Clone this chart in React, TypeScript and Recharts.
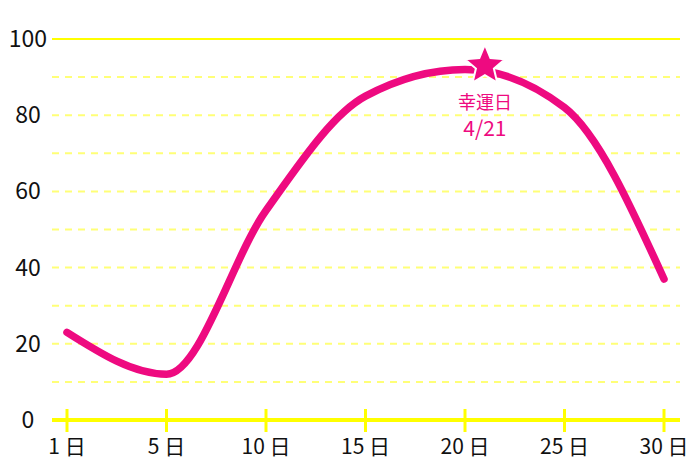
import React from "react";
import { LineChart, Line, XAxis, YAxis, ReferenceLine, ReferenceDot } from "recharts";

const dayNumbers = [1, 5, 10, 15, 20, 25, 30];
const tickLabels = ["1 日", "5 日", "10 日", "15 日", "20 日", "25 日", "30 日"];
const values = [23, 12, 55, 85, 92, 82, 37];
const yTicks = [0, 20, 40, 60, 80, 100];
const dashedGrid = [10, 20, 30, 40, 50, 60, 70, 80, 90];
const solidGrid = [100];
const luckyDay = 21;
const luckyValue = 93;
const luckyTitle = "幸運日";
const luckyDate = "4/21";

const PINK = "#ee0a80";
const YELLOW = "#ffff00";
const FONT = "'Noto Sans CJK JP', 'Noto Sans', sans-serif";

const data = values.map((v, i) => ({ idx: i, value: v }));

function dayToIndex(day: number) {
  for (let i = 0; i < dayNumbers.length - 1; i++) {
    if (day >= dayNumbers[i] && day <= dayNumbers[i + 1]) {
      return i + (day - dayNumbers[i]) / (dayNumbers[i + 1] - dayNumbers[i]);
    }
  }
  return dayNumbers.length - 1;
}

const XTick = (props: any) => {
  const { x, y, payload } = props;
  return (
    <g>
      <line x1={x} x2={x} y1={y - 11} y2={y + 12} stroke={YELLOW} strokeWidth={3} />
      <text x={x} y={y + 34} textAnchor="middle" fontSize={21} fontFamily={FONT} fill="#111">
        {tickLabels[payload.value]}
      </text>
    </g>
  );
};

const YTick = (props: any) => {
  const { y, payload } = props;
  return (
    <text x={28} y={y} dy={8} textAnchor="middle" fontSize={23} fontFamily={FONT} fill="#111">
      {payload.value}
    </text>
  );
};

const Star = (props: any) => {
  const { cx, cy } = props;
  const R = 21;
  const r = R * 0.45;
  const pts: string[] = [];
  for (let i = 0; i < 10; i++) {
    const rad = i % 2 === 0 ? R : r;
    const a = -Math.PI / 2 + (i * Math.PI) / 5;
    pts.push(`${cx + rad * Math.cos(a)},${cy + rad * Math.sin(a)}`);
  }
  return (
    <g>
      <polygon points={pts.join(" ")} fill={PINK} stroke="#fff" strokeWidth={2} strokeLinejoin="miter" />
      <text x={cx} y={cy + 43} textAnchor="middle" fontSize={18} fontFamily={FONT} fill={PINK}>
        {luckyTitle}
      </text>
      <text x={cx} y={cy + 70} textAnchor="middle" fontSize={21} fontFamily={FONT} fill={PINK}>
        {luckyDate}
      </text>
    </g>
  );
};

export default function App() {
  return (
    <div style={{ position: "absolute", left: 0, top: 0, background: "#fff" }}>
      <LineChart width={700} height={467} data={data} margin={{ top: 39, right: 20, bottom: 0, left: 0 }}>
        {dashedGrid.map((g) => (
          <ReferenceLine key={"d" + g} y={g} stroke="#ffff77" strokeWidth={2} strokeDasharray="7 6" />
        ))}
        {solidGrid.map((g) => (
          <ReferenceLine key={"s" + g} y={g} stroke={YELLOW} strokeWidth={2} />
        ))}
        <XAxis
          dataKey="idx"
          type="number"
          domain={[0, dayNumbers.length - 1]}
          ticks={dayNumbers.map((_, i) => i)}
          padding={{ left: 15, right: 16 }}
          height={47}
          axisLine={{ stroke: YELLOW, strokeWidth: 4 }}
          tickLine={false}
          tickSize={0}
          tickMargin={0}
          tick={<XTick />}
          interval={0}
        />
        <YAxis
          type="number"
          domain={[0, 100]}
          ticks={yTicks}
          width={52}
          axisLine={false}
          tickLine={false}
          tick={<YTick />}
          interval={0}
        />
        <Line
          type="monotone"
          dataKey="value"
          stroke={PINK}
          strokeWidth={7.5}
          strokeLinecap="round"
          dot={false}
          activeDot={false}
          isAnimationActive={false}
        />
        <ReferenceDot x={dayToIndex(luckyDay)} y={luckyValue} shape={<Star />} />
      </LineChart>
    </div>
  );
}
